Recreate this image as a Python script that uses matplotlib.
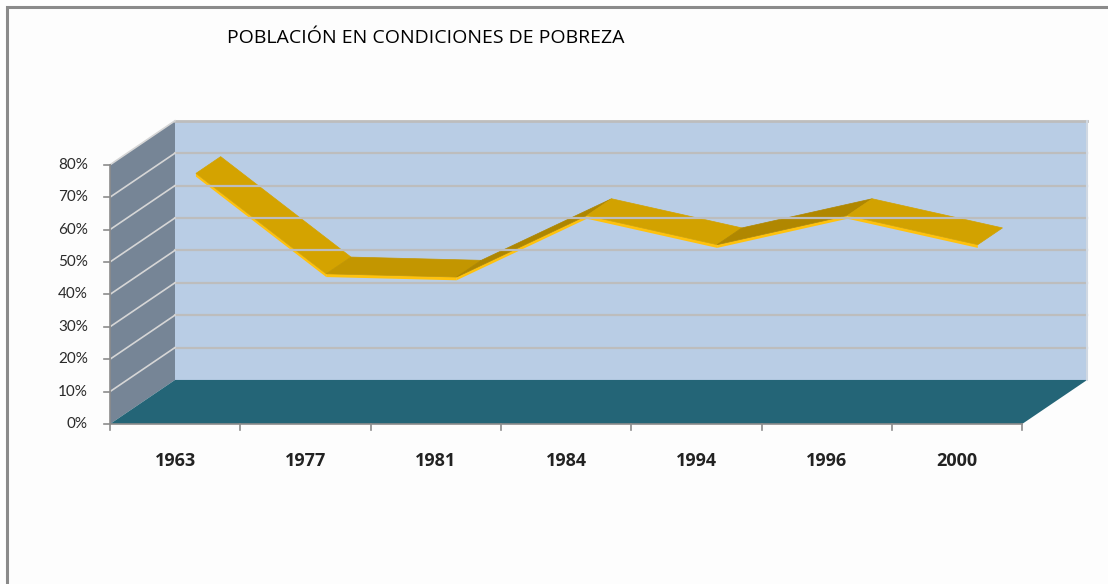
import numpy as np
import matplotlib.pyplot as plt
from matplotlib.patches import Polygon, Rectangle

# Datos
anios = ['1963', '1977', '1981', '1984', '1994', '1996', '2000']
pobreza = [73, 42, 41, 60, 51, 60, 51]
ticks_y = [0, 10, 20, 30, 40, 50, 60, 70, 80]
titulo = 'POBLACIÓN EN CONDICIONES DE POBREZA'

# Geometría de la "perspectiva" (profundidad en unidades de datos)
DX = 0.499      # desplazamiento en x por profundidad completa
DV = 13.6       # desplazamiento en y por profundidad completa
D_FRENTE = 0.32
D_FONDO = 0.70
n = len(anios)
vmax = ticks_y[-1]

def proy(x, v, d):
    return (x + d * DX, v + d * DV)

fig = plt.figure(figsize=(11.08, 5.84), dpi=100)
fig.patch.set_facecolor('#FDFDFD')
ax = fig.add_axes([0, 0, 1, 1])
ax.set_xlim(-0.8442, 7.659)
ax.set_ylim(-49.38, 130.86)
ax.axis('off')

# Marco del gráfico (sólo se ven arriba y a la izquierda)
fig.patches.append(Rectangle((7 / 1108, -0.5), 2, 1.5 - 7 / 584,
                             transform=fig.transFigure, fill=False,
                             edgecolor='#8A8A8A', lw=2.2))

# Pared lateral
ax.add_patch(Polygon([proy(0, 0, 0), proy(0, vmax, 0), proy(0, vmax, 1), proy(0, 0, 1)],
                     closed=True, facecolor='#768596', edgecolor='none'))
# Pared del fondo
ax.add_patch(Polygon([proy(0, 0, 1), proy(n, 0, 1), proy(n, vmax, 1), proy(0, vmax, 1)],
                     closed=True, facecolor='#B9CDE5', edgecolor='none'))
# Piso
ax.add_patch(Polygon([proy(0, 0, 0), proy(n, 0, 0), proy(n, 0, 1), proy(0, 0, 1)],
                     closed=True, facecolor='#246577', edgecolor='none'))

# Líneas de cuadrícula
for v in ticks_y[1:]:
    x0, y0 = proy(0, v, 1)
    x1, y1 = proy(n, v, 1)
    ax.plot([x0, x1], [y0, y1], color='#BDBDBD', lw=1.6 if v < vmax else 2.0)
    xa, ya = proy(0, v, 0)
    ax.plot([xa, x0], [ya, y0], color='#D6D6D6', lw=1.2)
# borde derecho de la pared
xr0, yr0 = proy(n, 0, 1)
xr1, yr1 = proy(n, vmax, 1)
ax.plot([xr0, xr1], [yr0, yr1], color='#D0D8E2', lw=1.5)

# Ejes frontales y marcas
ax.plot([0, 0], [0, vmax], color='#8C8C8C', lw=1.2)
ax.plot([0, n], [0, 0], color='#8C8C8C', lw=1.2)
for v in ticks_y:
    ax.plot([-0.045, 0], [v, v], color='#8C8C8C', lw=1.2)
    ax.text(-0.17, v, f'{v}%', ha='right', va='center', fontsize=11,
            family='Lato', color='#2A2A2A')
for i in range(n + 1):
    ax.plot([i, i], [0, -1.9], color='#8C8C8C', lw=1.2)
for i, a in enumerate(anios):
    ax.text(i + 0.5, -11.4, a, ha='center', va='center', fontsize=13,
            family='Open Sans', fontweight='bold', color='#222222')

# Cinta 3D de la serie
claro = np.array([212, 163, 0]) / 255
oscuro = np.array([174, 134, 0]) / 255
xs = np.arange(n) + 0.5
for i in range(n - 1):
    pendiente = pobreza[i + 1] - pobreza[i]
    t = np.clip(0.5 - pendiente / 20, 0, 1)
    color = oscuro + (claro - oscuro) * t
    f0 = proy(xs[i], pobreza[i], D_FRENTE)
    f1 = proy(xs[i + 1], pobreza[i + 1], D_FRENTE)
    b0 = proy(xs[i], pobreza[i], D_FONDO)
    b1 = proy(xs[i + 1], pobreza[i + 1], D_FONDO)
    # cara frontal (borde amarillo)
    ax.add_patch(Polygon([f0, f1, (f1[0], f1[1] - 1.0), (f0[0], f0[1] - 1.0)],
                         closed=True, facecolor='#FFC20E', edgecolor='none'))
    ax.add_patch(Polygon([f0, f1, b1, b0], closed=True, facecolor=color,
                         edgecolor=color, lw=0.5))

fig.text(426 / 1108, 1 - 38 / 584, titulo, ha='center', va='center',
         fontsize=14, family='Open Sans', color='#000000')

fig.savefig('out.png', dpi=100, facecolor=fig.get_facecolor())
